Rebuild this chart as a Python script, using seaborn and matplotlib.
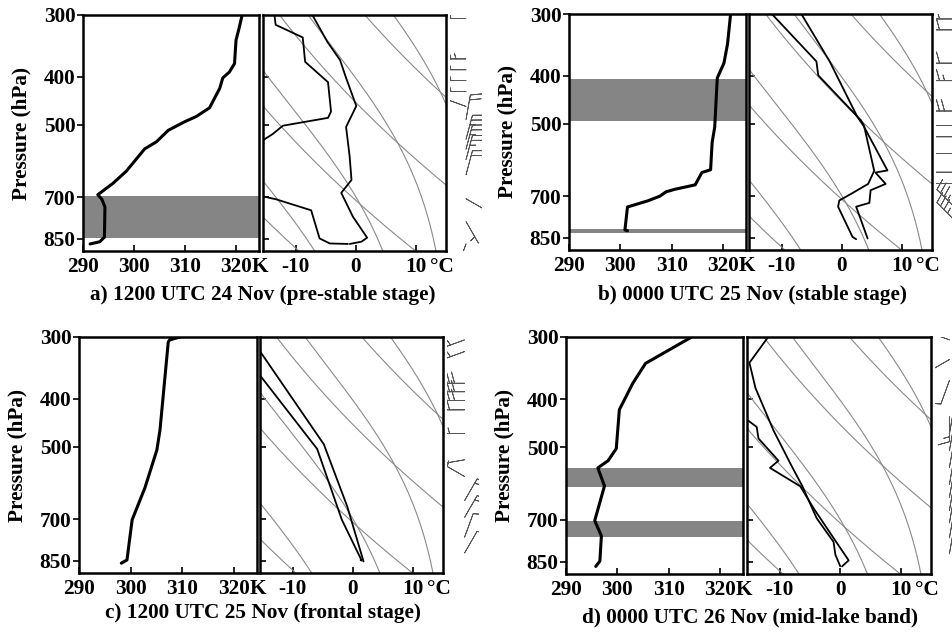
import numpy as np
import matplotlib
matplotlib.use("Agg")
import matplotlib.pyplot as plt
import seaborn as sns

# ---------------- data ----------------
# left boxes: potential temperature (K) vs pressure (hPa)
theta_p_a = [300, 322, 337, 376, 391, 402, 422, 462, 481, 493, 513, 541, 559, 620, 656, 692, 707, 733, 843, 861, 870]
theta_a = [321.2, 320.5, 320.0, 319.7, 318.7, 317.4, 316.8, 314.8, 312.2, 309.9, 306.7, 304.4, 302.1, 298.5,
           295.9, 292.9, 293.7, 294.3, 294.2, 293.3, 291.4]
theta_p_b = [300, 345, 377, 404, 508, 545, 619, 627, 664, 678, 686, 700, 715, 736, 819, 822]
theta_b = [321.5, 320.9, 320.2, 318.9, 318.4, 317.9, 317.6, 315.9, 314.6, 310.6, 308.9, 307.7, 305.4, 301.4,
           300.9, 301.4]
theta_p_c = [300, 304, 307, 462, 507, 604, 702, 846, 859]
theta_c = [309.6, 307.6, 307.3, 305.7, 305.1, 302.8, 300.3, 299.3, 298.2]
theta_p_d = [300, 339, 372, 420, 503, 532, 550, 598, 702, 754, 847, 868]
theta_d = [314.5, 305.5, 303.0, 300.4, 299.8, 298.2, 296.2, 297.5, 295.6, 296.9, 296.6, 295.8]

# right boxes: temperature and dew point on the skewed axis (deg C at axis)
temp_p_a = [300, 340, 370, 402, 458, 505, 580, 646, 686, 767, 845, 861, 870]
temp_a = [-7.2, -4.7, -2.6, -1.6, 0.1, -1.6, -1.0, -0.7, -2.4, -0.45, 1.9, 0.95, -1.0]
dew_p_a = [300, 314, 333, 373, 410, 470, 484, 502, 522, 538, 580, 660, 697, 707, 744, 848, 868, 870]
dew_a = [-13.5, -13.3, -8.8, -8.4, -4.6, -4.1, -4.6, -12.1, -13.8, -15.5, -22.0, -20.0, -15.5, -13.2, -7.4,
         -6.0, -4.3, -1.3]
temp_p_b = [300, 374, 484, 504, 621, 627, 661, 681, 722, 735, 852]
temp_b = [-6.7, -2.0, 2.6, 3.6, 7.6, 5.6, 7.3, 4.8, 4.6, 2.4, 4.3]
dew_p_b = [300, 374, 399, 492, 504, 622, 661, 692, 714, 735, 846, 855]
dew_b = [-11.6, -4.2, -3.9, 3.2, 3.7, 5.4, 4.4, 1.6, -0.4, -0.6, 1.8, 2.4]
temp_p_c = [300, 318, 494, 660, 852]
temp_c = [-17.5, -15.6, -4.8, -0.9, 1.8]
dew_p_c = [300, 356, 505, 702, 849, 846]
dew_c = [-18.5, -15.6, -5.9, -1.8, 1.5, 1.3]
temp_p_d = [300, 338, 380, 463, 546, 597, 694, 775, 822, 867]
temp_d = [-11.9, -15.0, -14.0, -11.0, -8.0, -6.3, -3.9, -1.1, -0.8, 0.0]
dew_p_d = [420, 440, 455, 480, 532, 550, 599, 663, 761, 844, 868]
dew_d = [-17.0, -15.4, -13.8, -13.5, -10.2, -11.6, -6.6, -4.4, -1.1, 1.4, 0.3]

# shaded layers (hPa)
bands_a = [(695, 845)]
bands_b = [(405, 493), (817, 829)]
bands_c = []
bands_d = [(550, 602), (702, 759)]

# wind barbs: pressure (hPa), direction wind comes from (deg), speed (kt)
barb_p_a = [305, 368, 387, 407, 428, 459, 488, 535, 560, 588, 631, 705, 784, 870]
barb_dir_a = [270, 270, 270, 270, 270, 290, 10, 15, 15, 15, 15, 120, 150, 200]
barb_spd_a = [30, 35, 25, 25, 25, 20, 20, 25, 25, 25, 20, 10, 5, 10]
barb_p_b = [307, 323, 377, 409, 471, 504, 531, 574, 626, 660, 737, 783]
barb_dir_b = [270, 270, 270, 270, 270, 270, 270, 270, 270, 270, 315, 315]
barb_spd_b = [30, 30, 30, 35, 40, 15, 15, 15, 15, 15, 35, 35]
barb_p_c = [304, 321, 372, 387, 403, 421, 470, 531, 574, 642, 694, 761, 819]
barb_dir_c = [250, 250, 270, 270, 270, 270, 270, 260, 300, 30, 30, 20, 30]
barb_spd_c = [25, 25, 40, 40, 40, 30, 25, 20, 15, 15, 15, 10, 10]
barb_p_d = [304, 333, 367, 434, 470, 508, 549, 594, 631, 670, 710, 761, 819]
barb_dir_d = [290, 240, 200, 180, 10, 10, 10, 10, 10, 10, 10, 10, 10]
barb_spd_d = [10, 10, 10, 15, 20, 20, 20, 20, 20, 20, 20, 15, 10]

# reference lines of the thermodynamic chart
skew = 35.0
dry_theta = [268, 288, 308, 328]
moist_thw = [-4.5, 5.9, 14.0, 20.3]

captions = ["a) 1200 UTC 24 Nov (pre-stable stage)", "b) 0000 UTC 25 Nov (stable stage)",
            "c) 1200 UTC 25 Nov (frontal stage)", "d) 0000 UTC 26 Nov (mid-lake band)"]


def skewed(t_c, p):
    return t_c + skew * np.log(1000.0 / p)


def moist_rate(t, p):
    es = 6.112 * np.exp(17.67 * (t - 273.15) / (t - 29.65))
    rs = 0.622 * es / (p - es)
    return (287.04 * t + 2.501e6 * rs) / (1005.7 + 2.501e6 ** 2 * rs * 0.622 / (287.04 * t * t))


def moist_curve(thw, p_out):
    lnp = np.linspace(np.log(1000.0), np.log(250.0), 800)
    t = thw + 273.15
    out = [t]
    for i in range(len(lnp) - 1):
        dl = lnp[i + 1] - lnp[i]
        k1 = moist_rate(t, np.exp(lnp[i]))
        k2 = moist_rate(t + 0.5 * dl * k1, np.exp(lnp[i] + 0.5 * dl))
        t = t + dl * k2
        out.append(t)
    t_out = np.interp(np.log(p_out), lnp[::-1], np.array(out)[::-1])
    return skewed(t_out - 273.15, p_out)


def wind_uv(direction, speed):
    d = np.deg2rad(np.asarray(direction, dtype=float))
    s = np.asarray(speed, dtype=float)
    return -s * np.sin(d), -s * np.cos(d)


sns.set_theme(style="white", rc={"axes.edgecolor": "black", "text.color": "black",
                                 "xtick.color": "black", "ytick.color": "black", "axes.labelcolor": "black"})
plt.rcParams["font.family"] = ["Liberation Serif", "DejaVu Serif"]
plt.rcParams["font.weight"] = "bold"
plt.rcParams["axes.labelweight"] = "bold"

W, H = 953, 632
fig = plt.figure(figsize=(W / 100, H / 100), dpi=100)
FS = 15.3


def px_axes(x0, y0, x1, y1):
    return fig.add_axes([x0 / W, 1 - y1 / H, (x1 - x0) / W, (y1 - y0) / H])


layout = [
    # left box, right box, barb column, barb station x, caption centre
    ((83, 15, 259, 251), (263, 15, 446, 251), (450, 15, 482, 251), 0.50, (263, 295)),
    ((569, 14, 746, 250), (749, 14, 932, 250), (936, 14, 968, 250), 0.58, (752, 295)),
    ((79, 337, 257, 573), (260, 337, 443, 573), (447, 337, 479, 573), 0.55, (263, 613)),
    ((566, 337, 743, 574), (747, 337, 931, 574), (935, 337, 967, 574), 0.45, (750, 617)),
]
panels = [
    (theta_a, theta_p_a, temp_a, temp_p_a, dew_a, dew_p_a, bands_a, barb_p_a, barb_dir_a, barb_spd_a),
    (theta_b, theta_p_b, temp_b, temp_p_b, dew_b, dew_p_b, bands_b, barb_p_b, barb_dir_b, barb_spd_b),
    (theta_c, theta_p_c, temp_c, temp_p_c, dew_c, dew_p_c, bands_c, barb_p_c, barb_dir_c, barb_spd_c),
    (theta_d, theta_p_d, temp_d, temp_p_d, dew_d, dew_p_d, bands_d, barb_p_d, barb_dir_d, barb_spd_d),
]

p_ticks = [300, 400, 500, 700, 850]
p_bot, p_top = 899, 300
p_grid = np.geomspace(280, 920, 200)

for (lbox, rbox, bbox, bx, cap), data, caption in zip(layout, panels, captions):
    th, th_p, tt, tt_p, td, td_p, bands, bp, bdir, bspd = data

    # ---- potential temperature box ----
    ax = px_axes(*lbox)
    for lo, hi in bands:
        ax.axhspan(lo, hi, color="#858585", lw=0, zorder=1)
    sns.lineplot(x=th, y=th_p, sort=False, estimator=None, color="black", lw=2.2, ax=ax, zorder=3)
    ax.set_yscale("log")
    ax.set_ylim(p_bot, p_top)
    ax.set_xlim(290, 324.5)
    ax.set_yticks(p_ticks)
    ax.set_yticklabels([str(v) for v in p_ticks])
    ax.yaxis.set_minor_locator(matplotlib.ticker.NullLocator())
    ax.set_xticks([290, 300, 310, 320])
    ax.set_xticklabels(["290", "300", "310", "320"])
    ax.tick_params(axis="y", direction="out", length=4, width=1.2, pad=1.5, labelsize=FS, left=True)
    ax.tick_params(axis="x", direction="in", length=4, width=1.2, pad=4, labelsize=FS, bottom=True)
    ax.set_xlabel("")
    ax.set_ylabel("Pressure (hPa)", fontsize=FS, fontweight="bold")
    ax.yaxis.set_label_coords(-0.29, 0.5)
    ax.annotate("K", xy=(320, 0), xycoords=("data", "axes fraction"), xytext=(11.5, -4),
                textcoords="offset points", ha="left", va="top", fontsize=FS, fontweight="bold")
    for s in ax.spines.values():
        s.set_linewidth(1.8)
        s.set_zorder(5)

    # ---- temperature / dew point box ----
    ax2 = px_axes(*rbox)
    for th0 in dry_theta:
        x = skewed(th0 * (p_grid / 1000.0) ** 0.2857 - 273.15, p_grid)
        ax2.plot(x, p_grid, color="#8a8a8a", lw=0.8, zorder=1)
    for tw in moist_thw:
        ax2.plot(moist_curve(tw, p_grid), p_grid, color="#8a8a8a", lw=0.8, zorder=1)
    sns.lineplot(x=tt, y=tt_p, sort=False, estimator=None, color="black", lw=1.3, ax=ax2, zorder=3)
    sns.lineplot(x=td, y=td_p, sort=False, estimator=None, color="black", lw=1.3, ax=ax2, zorder=3)
    ax2.set_yscale("log")
    ax2.set_ylim(p_bot, p_top)
    ax2.set_xlim(-15.4, 15.0)
    ax2.set_yticks(p_ticks[1:])
    ax2.set_yticklabels([])
    ax2.yaxis.set_minor_locator(matplotlib.ticker.NullLocator())
    ax2.set_xticks([-10, 0, 10])
    ax2.set_xticklabels(["-10", "0", "10"])
    ax2.tick_params(axis="both", direction="in", length=4, width=1.2, pad=4, labelsize=FS, left=True, bottom=True)
    ax2.set_xlabel("")
    ax2.set_ylabel("")
    ax2.annotate("\u00b0C", xy=(10, 0), xycoords=("data", "axes fraction"), xytext=(10, -4),
                 textcoords="offset points", ha="left", va="top", fontsize=FS, fontweight="bold")
    for s in ax2.spines.values():
        s.set_linewidth(1.8)
        s.set_zorder(5)

    # ---- wind barbs ----
    ax3 = px_axes(*bbox)
    u, v = wind_uv(bdir, bspd)
    ax3.barbs(np.full(len(bp), bx), bp, u, v, length=6, linewidth=0.6, color="#555555",
              sizes={"emptybarb": 0.0, "spacing": 0.2, "height": 0.45})
    ax3.set_yscale("log")
    ax3.set_ylim(p_bot, p_top)
    ax3.set_xlim(0, 1)
    ax3.axis("off")

    fig.text(cap[0] / W, 1 - cap[1] / H, caption, ha="center", va="center", fontsize=FS, fontweight="bold")

fig.savefig("out.png", dpi=100)
